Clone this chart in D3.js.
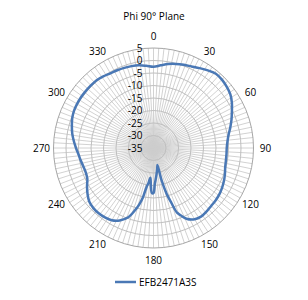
<!DOCTYPE html>
<html>
<head>
<meta charset="utf-8">
<script src="https://cdn.jsdelivr.net/npm/d3@7"></script>
<style>
  body { margin: 0; background: #fff; }
  text { font-family: "Open Sans", "DejaVu Sans", sans-serif; fill: #000; }
</style>
</head>
<body>
<div id="chart"></div>
<script>
// gain pattern (deg, dB)
var angles = [0, 5, 10, 15, 20, 25, 30, 35, 40, 45, 50, 55, 60, 65, 70, 75, 80, 85, 90, 95,
  100, 105, 110, 115, 120, 125, 130, 135, 140, 145, 150, 155, 158, 160, 162, 164, 166, 167,
  170, 174, 178, 180, 182, 184, 186, 188, 190, 192, 194, 196, 200, 205, 210, 215, 220, 225,
  230, 235, 240, 245, 250, 255, 260, 265, 270, 275, 280, 285, 290, 295, 300, 305, 310, 315,
  320, 325, 330, 335, 340, 345, 350, 355]
var gain = [-2.5, -1.8, -0.9, -0.2, 0.4, 1.0, 1.9, 2.9, 3.8, 3.7, 3.2, 2.5, 1.2, -0.4, -1.8, -3.2, -4.5, -5.3, -5.7, -5.7,
  -5.6, -5.3, -4.6, -3.9, -3.3, -2.8, -2.5, -2.3, -1.9, -1.6, -2.1, -3.8, -6, -7.5, -12, -16, -22, -28,
  -26.5, -24, -20.5, -17, -17, -20, -23, -21, -19.3, -15, -12, -9.6, -5.5, -3, -1.6, -1.1, -0.9, -1.0,
  -1.5, -2.8, -4.3, -5.8, -6.2, -6.0, -5.5, -4.9, -4.0, -3.0, -2.0, -1.2, -0.4, 0.1, 0.3, 0.4, 0.4, 0.4,
  0.4, 0.0, -0.5, -0.7, -0.9, -1.1, -1.4, -2.0]
var ringTicks = [5, 0, -5, -10, -15, -20, -25, -30, -35]
var angleLabels = [0, 30, 60, 90, 120, 150, 180, 210, 240, 270, 300, 330]
var seriesName = "EFB2471A3S"
var title = "Phi 90\u00b0 Plane"

var w = 308, h = 300
var cx = 153.5, cy = 148, R = 100

var svg = d3.select("#chart").append("svg").attr("width", w).attr("height", h)

var r = d3.scaleLinear().domain([-35, 5]).range([0, R])
var a = d3.scaleLinear().domain([0, 360]).range([0, 2 * Math.PI])

var g = svg.append("g").attr("transform", "translate(" + cx + "," + cy + ")")

// spokes, every 3 degrees
g.selectAll("line.spoke").data(d3.range(0, 360, 3)).join("line")
  .attr("class", "spoke")
  .attr("x1", 0).attr("y1", 0)
  .attr("x2", function (d) { return R * Math.sin(a(d)) })
  .attr("y2", function (d) { return -R * Math.cos(a(d)) })
  .attr("stroke", "#cdcdcd").attr("stroke-width", 0.9)

// rings
g.selectAll("circle.ring").data(ringTicks.filter(function (d) { return d > -35 })).join("circle")
  .attr("class", "ring")
  .attr("r", function (d) { return r(d) })
  .attr("fill", "none")
  .attr("stroke", function (d) { return d == 5 ? "#a6a6a6" : "#bfbfbf" })
  .attr("stroke-width", 1)

// series
var line = d3.lineRadial()
  .angle(function (d, i) { return a(angles[i]) })
  .radius(function (d) { return r(d) })
  .curve(d3.curveCatmullRomClosed.alpha(0.5))

g.append("path").attr("d", line(gain))
  .attr("fill", "none").attr("stroke", "#4a78b5").attr("stroke-width", 2.5)
  .attr("stroke-linejoin", "round")

// radial tick labels
g.selectAll("text.rt").data(ringTicks).join("text")
  .attr("class", "rt")
  .attr("x", -11).attr("y", function (d) { return -r(d) })
  .attr("dy", "0.35em").attr("text-anchor", "end")
  .attr("font-size", 10)
  .text(function (d) { return d })

// angle labels
g.selectAll("text.at").data(angleLabels).join("text")
  .attr("class", "at")
  .attr("x", function (d) { return 112 * Math.sin(a(d)) })
  .attr("y", function (d) { return -112 * Math.cos(a(d)) })
  .attr("dy", "0.35em").attr("text-anchor", "middle")
  .attr("font-size", 10)
  .text(function (d) { return d })

svg.append("text").attr("x", 154).attr("y", 16).attr("dy", "0.35em")
  .attr("text-anchor", "middle").attr("font-size", 10).text(title)

// legend
svg.append("line").attr("x1", 115).attr("x2", 136).attr("y1", 282).attr("y2", 282)
  .attr("stroke", "#4a78b5").attr("stroke-width", 2.5)
svg.append("text").attr("x", 139).attr("y", 282).attr("dy", "0.35em")
  .attr("font-size", 10).text(seriesName)
</script>
</body>
</html>
